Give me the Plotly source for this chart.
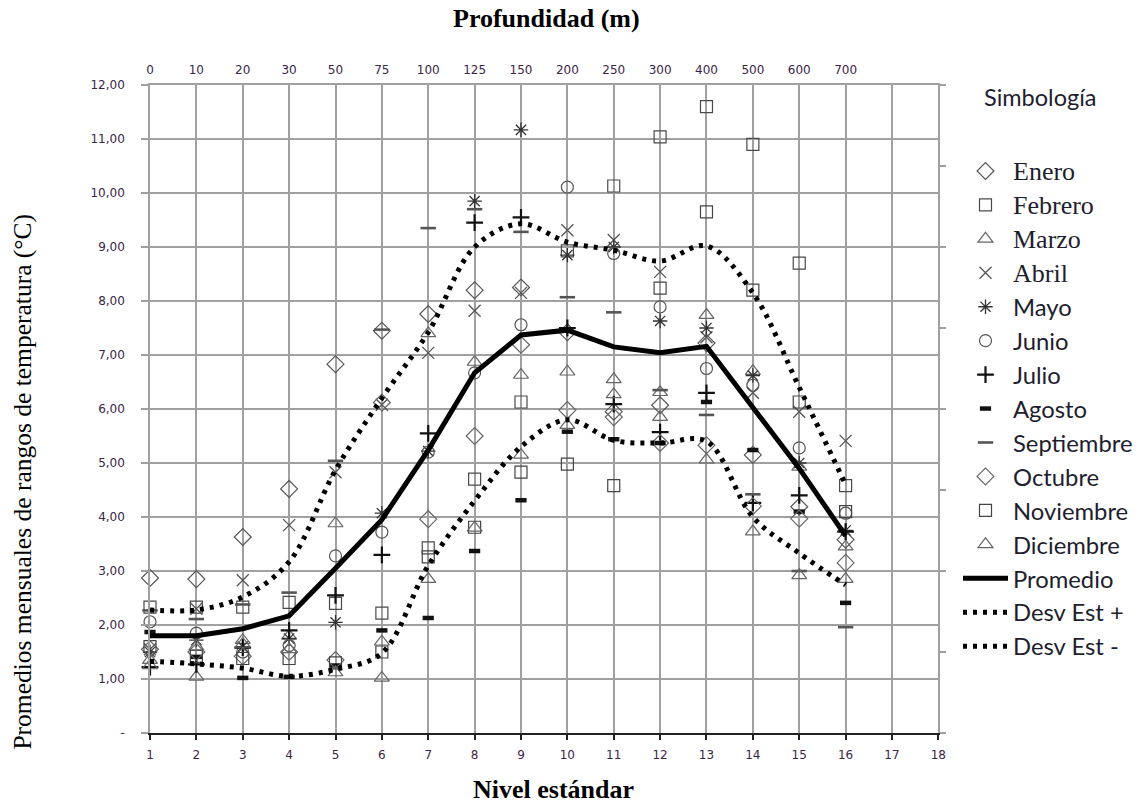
import plotly.graph_objects as go

# Standard levels (bottom axis) and their depths (top axis)
niveles = list(range(1, 17))
profundidad = ["0", "10", "20", "30", "50", "75", "100", "125", "150",
               "200", "250", "300", "400", "500", "600", "700"]

# Monthly mean temperature ranges (°C) per standard level
enero      = [2.87, 2.85, 3.63, 4.52, 6.83, 7.45, 7.76, 8.20, 8.25, 7.42, 5.95, 6.07, 7.22, 5.15, 4.19, 3.58]
febrero    = [2.33, 2.33, 2.33, 2.42, 2.40, 2.22, 3.43, 4.70, 6.13, 8.93, 10.13, 11.04, 11.60, 10.90, 8.70, 4.58]
marzo      = [1.35, 1.04, 1.72, 1.80, 3.88, 1.02, 7.40, 6.87, 6.63, 6.69, 6.55, 6.31, 7.74, 6.70, 4.93, 3.45]
abril      = [1.55, 2.30, 2.83, 3.85, 4.83, 6.08, 7.04, 7.82, 8.15, 9.31, 9.13, 8.54, 7.33, 6.30, 5.95, 5.41]
mayo       = [1.50, 1.72, 1.60, 1.75, 2.05, 4.07, 5.22, 9.85, 11.17, 8.85, 9.00, 7.63, 7.50, 6.62, 5.00, 3.75]
junio      = [2.06, 1.85, 1.50, 1.62, 3.28, 3.72, 5.20, 6.67, 7.56, 10.11, 8.88, 7.89, 6.75, 6.44, 5.28, 4.07]
julio      = [1.22, 1.27, 1.58, 1.90, 2.55, 3.30, 5.55, 9.45, 9.55, 7.50, 6.09, 5.57, 6.30, 4.26, 4.40, 3.73]
agosto     = [1.87, 1.41, 1.02, 1.04, 1.25, 1.90, 2.13, 3.37, 4.31, 5.58, 5.44, 5.37, 6.13, 5.24, 4.10, 2.41]
septiembre = [2.27, 2.11, 2.38, 2.60, 5.04, 7.47, 9.35, 9.70, 9.28, 8.07, 7.79, 6.35, 5.89, 4.42, 3.00, 1.96]
octubre    = [1.55, 1.50, 1.42, 1.50, 1.35, 6.12, 3.96, 5.50, 7.19, 5.98, 5.85, 5.37, 5.33, 4.20, 3.97, 3.15]
noviembre  = [1.60, 1.42, 1.38, 1.38, 1.30, 1.50, 3.26, 3.81, 4.83, 4.98, 4.58, 8.24, 9.65, 8.20, 6.13, 4.10]
diciembre  = [1.25, 1.60, 1.65, 1.55, 1.12, 1.69, 2.85, 3.80, 5.15, 5.70, 6.27, 5.85, 5.06, 3.73, 2.92, 2.85]

promedio   = [1.80, 1.80, 1.93, 2.17, 3.05, 3.95, 5.24, 6.67, 7.37, 7.46, 7.15, 7.04, 7.16, 6.03, 4.90, 3.65]
desv_mas   = [2.28, 2.28, 2.52, 3.17, 4.87, 6.20, 7.42, 9.00, 9.43, 9.09, 8.94, 8.74, 9.02, 8.15, 6.40, 4.60]
desv_menos = [1.33, 1.28, 1.20, 1.05, 1.18, 1.48, 3.10, 4.30, 5.30, 5.80, 5.42, 5.37, 5.40, 4.00, 3.33, 2.74]

y_ticks = list(range(0, 13))
y_ticktext = ["-"] + [f"{v},00" for v in range(1, 13)]

SERIF = "Liberation Serif"
SANS = "Lato"
TICK_COLOR = "#3b2547"
GRID = "#a0a0a0"


def serif(label):
    return f'<span style="font-family:{SERIF};font-size:26px">{label}</span>'


# name, values, symbol, colour, size, stroke width
meses = [
    (serif("Enero"), enero, "diamond-open", "#555555", 13, 1.2),
    (serif("Febrero"), febrero, "square-open", "#4a4a4a", 12, 1.2),
    (serif("Marzo"), marzo, "triangle-up-open", "#666666", 13, 1.2),
    (serif("Abril"), abril, "x-thin-open", "#555555", 12, 1.3),
    ("Mayo", mayo, "asterisk-open", "#333333", 12, 1.3),
    ("Junio", junio, "circle-open", "#555555", 12, 1.2),
    ("Julio", julio, "cross-thin-open", "#111111", 12, 2.2),
    ("Agosto", agosto, "line-ew-open", "#111111", 8, 4.5),
    ("Septiembre", septiembre, "line-ew-open", "#555555", 11, 2.6),
    ("Octubre", octubre, "diamond-open", "#666666", 13, 1.2),
    ("Noviembre", noviembre, "square-open", "#444444", 12, 1.2),
    ("Diciembre", diciembre, "triangle-up-open", "#666666", 13, 1.2),
]

fig = go.Figure()

for name, vals, sym, col, size, lw in meses:
    fig.add_trace(go.Scatter(
        x=niveles, y=vals, mode="markers", name=name,
        marker=dict(symbol=sym, size=size, color=col,
                    line=dict(color=col, width=lw)),
        cliponaxis=False,
    ))

fig.add_trace(go.Scatter(
    x=niveles, y=promedio, mode="lines", name="Promedio",
    line=dict(color="black", width=5),
))
fig.add_trace(go.Scatter(
    x=niveles, y=desv_mas, mode="lines", name="Desv Est +",
    line=dict(color="black", width=5, dash="4px,6px", shape="spline", smoothing=1),
))
fig.add_trace(go.Scatter(
    x=niveles, y=desv_menos, mode="lines", name="Desv Est -",
    line=dict(color="black", width=5, dash="4px,6px", shape="spline", smoothing=1),
))

# helper traces so the secondary axes are drawn
fig.add_trace(go.Scatter(x=[None], y=[None], xaxis="x2", yaxis="y",
                         showlegend=False, hoverinfo="skip"))
fig.add_trace(go.Scatter(x=[None], y=[None], xaxis="x", yaxis="y2",
                         showlegend=False, hoverinfo="skip"))

tick_font = dict(family="DejaVu Sans", size=12, color=TICK_COLOR)

# plot area spans x 150..942 px and y 85..733 px
PX0, PX1, PY0, PY1 = 150, 942, 85, 733


def px_x(px):
    return (px - PX0) / (PX1 - PX0)


def px_y(py):
    return (PY1 - py) / (PY1 - PY0)


fig.update_layout(
    width=1143, height=806,
    margin=dict(l=PX0, r=1143 - PX1, t=PY0, b=806 - PY1),
    paper_bgcolor="white", plot_bgcolor="white",
    xaxis=dict(
        range=[1, 18], tickvals=list(range(1, 19)),
        showgrid=True, gridcolor=GRID, gridwidth=1.5,
        showline=True, linecolor="#222222", linewidth=1.5,
        ticks="outside", ticklen=5, tickcolor="#222222", tickwidth=1.5,
        tickfont=tick_font, ticklabelstandoff=5, zeroline=False,
    ),
    xaxis2=dict(
        range=[1, 18], overlaying="x", side="top", anchor="y",
        tickvals=niveles, ticktext=profundidad,
        showgrid=False, showline=True, linecolor=GRID, linewidth=1.5,
        ticks="inside", ticklen=5, tickcolor=GRID,
        tickfont=tick_font, ticklabelstandoff=4, zeroline=False,
    ),
    yaxis=dict(
        range=[0, 12], tickvals=y_ticks, ticktext=y_ticktext,
        showgrid=True, gridcolor=GRID, gridwidth=1.5,
        showline=True, linecolor=GRID, linewidth=1.5,
        ticks="outside", ticklen=7, tickcolor=GRID, tickwidth=1.5,
        tickfont=tick_font, ticklabelstandoff=14, zeroline=False,
    ),
    yaxis2=dict(
        range=[0, 8], overlaying="y", side="right", anchor="x",
        dtick=1, showticklabels=False, showgrid=False,
        showline=True, linecolor=GRID, linewidth=1.5,
        ticks="outside", ticklen=6, tickcolor=GRID, tickwidth=1.5,
        zeroline=False,
    ),
    legend=dict(
        xref="container", yref="container",
        x=958 / 1143, y=1 - 149 / 806, xanchor="left", yanchor="top",
        font=dict(family=SANS, size=23.8, color="#1e1e2e"),
        itemwidth=45, bgcolor="rgba(0,0,0,0)", tracegroupgap=0,
        maxheight=640,
    ),
    showlegend=True,
    annotations=[
        dict(text="<b>Profundidad (m)</b>", xref="paper", yref="paper",
             x=px_x(548), y=px_y(18), xanchor="center", yanchor="middle",
             showarrow=False, font=dict(family=SERIF, size=26, color="black")),
        dict(text="<b>Nivel estándar</b>", xref="paper", yref="paper",
             x=px_x(555), y=px_y(789), xanchor="center", yanchor="middle",
             showarrow=False, font=dict(family=SERIF, size=26, color="black")),
        dict(text="Promedios mensuales de rangos de temperatura (°C)",
             xref="paper", yref="paper", textangle=-90,
             x=px_x(22), y=px_y(482), xanchor="center", yanchor="middle",
             showarrow=False, font=dict(family=SERIF, size=25.5, color="black")),
        dict(text="Simbología", xref="paper", yref="paper",
             x=px_x(1044), y=px_y(97), xanchor="center", yanchor="middle",
             showarrow=False, font=dict(family=SANS, size=23.5, color="#1e1e2e")),
    ],
)

fig.write_html("out.html")
